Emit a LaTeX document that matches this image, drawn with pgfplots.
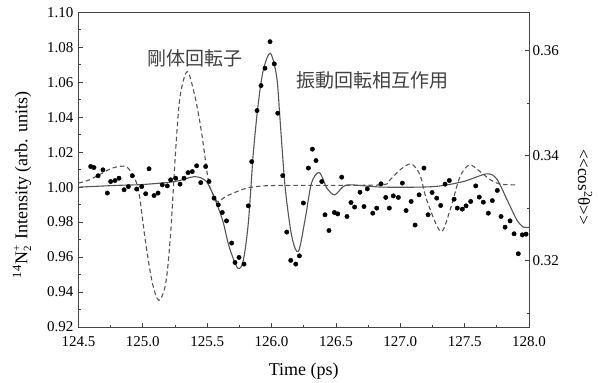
\documentclass[border=0pt]{standalone}
\usepackage{fontspec}
\setmainfont{Liberation Serif}
\newfontfamily\jp{Noto Sans CJK JP}
\usepackage{pgfplots}
\pgfplotsset{compat=1.18}
\definecolor{axc}{HTML}{444444}
\definecolor{curvec}{HTML}{555555}
\begin{document}
\begin{tikzpicture}
\useasboundingbox (0,0) rectangle (598bp,383bp);
\begin{axis}[
  at={(78.5bp,56bp)}, anchor=south west,
  scale only axis, width=450.5bp, height=314.7bp,
  xmin=124.5, xmax=128, ymin=0.92, ymax=1.10,
  xtick={124.5,125,125.5,126,126.5,127,127.5,128},
  ytick={0.92,0.94,0.96,0.98,1.00,1.02,1.04,1.06,1.08,1.10},
  minor x tick num=1, minor y tick num=1,
  xtick pos=bottom, ytick pos=left,
  tick align=inside,
  major tick length=4bp, minor tick length=2.2bp,
  axis line style={axc, line width=0.9bp},
  every tick/.style={axc, line width=0.8bp},
  /pgf/number format/assume math mode=true,
  xticklabel style={font=\fontsize{15bp}{18bp}\selectfont, yshift=-6bp, /pgf/number format/.cd, fixed, fixed zerofill, precision=1},
  yticklabel style={font=\fontsize{15bp}{18bp}\selectfont, xshift=-1.5bp, /pgf/number format/.cd, fixed, fixed zerofill, precision=2},
  scaled ticks=false,
  clip=true,
]
% measured points
\addplot[only marks, mark=*, mark size=2.2bp, black] coordinates {
(124.595,1.0118) (124.620,1.0112) (124.652,1.0065) (124.690,1.0099) (124.724,0.9966)
(124.750,1.0032) (124.784,1.0038) (124.815,1.0051) (124.854,0.9985) (124.887,1.0003)
(124.918,1.0065) (124.952,0.9989) (124.991,1.0003) (125.022,0.9962) (125.048,1.0105)
(125.087,0.9952) (125.118,0.9966) (125.151,1.0013) (125.190,1.0007) (125.216,1.0042)
(125.255,1.0051) (125.289,1.0017) (125.320,1.0051) (125.351,1.0083) (125.384,1.0089)
(125.418,1.0122) (125.450,1.0026) (125.488,1.0118) (125.514,1.0032) (125.553,0.9937)
(125.586,0.9899) (125.617,0.9855) (125.650,0.9807) (125.690,0.9680) (125.716,0.9569)
(125.747,0.9598) (125.786,0.9560) (125.819,0.9893) (125.846,1.0146) (125.887,1.0438)
(125.918,1.0581) (125.949,1.0680) (125.988,1.0832) (126.021,1.0705) (126.048,1.0423)
(126.087,1.0066) (126.118,0.9743) (126.149,0.9581) (126.188,0.9560) (126.216,0.9607)
(126.247,0.9909) (126.286,1.0109) (126.317,1.0217) (126.345,1.0152) (126.390,1.0032)
(126.415,0.9842) (126.446,0.9752) (126.488,0.9855) (126.514,0.9847) (126.545,1.0057)
(126.586,0.9832) (126.617,0.9912) (126.645,0.9886) (126.687,0.9971) (126.718,0.9889)
(126.744,0.9990) (126.786,0.9851) (126.817,0.9880) (126.850,1.0019) (126.887,0.9941)
(126.915,0.9880) (126.946,0.9950) (126.985,0.9941) (127.016,1.0023) (127.045,0.9866)
(127.084,0.9918) (127.115,0.9783) (127.146,0.9956) (127.184,1.0109) (127.216,0.9842)
(127.247,0.9969) (127.283,0.9937) (127.314,0.9895) (127.348,1.0017) (127.381,1.0038)
(127.418,0.9931) (127.443,0.9880) (127.482,0.9874) (127.511,0.9893) (127.547,0.9918)
(127.586,1.0007) (127.614,0.9943) (127.645,0.9914) (127.684,0.9851) (127.715,0.9923)
(127.754,0.9981) (127.783,0.9832) (127.814,0.9771) (127.853,0.9807) (127.884,0.9733)
(127.917,0.9619) (127.948,0.9727) (127.977,0.9731)
};
% rigid rotor (dashed)
\addplot[curvec, line width=1.1bp, dash pattern=on 4.5bp off 3bp, smooth, tension=0.5] coordinates {
(124.5,1.0023) (124.58,1.0040) (124.66,1.0070) (124.763,1.0109) (124.867,1.0118)
(124.93,1.0060) (124.97,0.9966) (125.022,0.9680) (125.074,0.9451) (125.125,0.9352)
(125.178,0.9451) (125.216,0.9737) (125.255,1.0213) (125.289,1.0518) (125.345,1.0661)
(125.405,1.0518) (125.457,1.0309) (125.496,1.0099) (125.52,1.0000) (125.566,0.9930)
(125.586,0.9918) (125.644,0.9946) (125.703,0.9966) (125.807,0.9994) (125.96,1.0008)
(126.3,1.0010) (126.85,1.0013) (126.92,1.0042) (127.0,1.0100) (127.084,1.0133)
(127.153,1.0070) (127.205,0.9927) (127.314,0.9746) (127.387,0.9870) (127.464,1.0060)
(127.537,1.0127) (127.62,1.0089) (127.70,1.0042) (127.78,1.0017) (127.905,1.0013)
};
% rovibrational (solid)
\addplot[curvec, line width=1.1bp, smooth, tension=0.5] coordinates {
(124.5,1.0000) (124.8,1.0010) (125.0,1.0015) (125.25,1.0032) (125.40,1.0060)
(125.49,1.0035) (125.55,0.9950) (125.62,0.9810) (125.67,0.9660) (125.737,0.9537)
(125.78,0.9580) (125.82,0.9800) (125.858,1.0194) (125.897,1.0480) (125.936,1.0670)
(125.990,1.0766) (126.04,1.0630) (126.066,1.0385) (126.105,1.0003) (126.157,0.9718)
(126.208,0.9632) (126.26,0.9813) (126.31,1.0023) (126.371,1.0083) (126.43,0.9994)
(126.49,0.9956) (126.557,1.0003) (126.62,1.0013) (126.87,1.0000) (127.257,1.0003)
(127.49,1.0032) (127.672,1.0076) (127.75,1.0046) (127.83,0.9927) (127.905,0.9813)
(127.957,0.9771) (128.0,0.9771)
};
\end{axis}
\begin{axis}[
  at={(78.5bp,56bp)}, anchor=south west,
  scale only axis, width=450.5bp, height=314.7bp,
  xmin=124.5, xmax=128, ymin=0.30743, ymax=0.36724,
  axis x line=none, axis y line*=right,
  ytick={0.32,0.34,0.36}, minor ytick={0.31,0.33,0.35},
  tick align=inside,
  major tick length=4bp, minor tick length=2.2bp,
  axis line style={axc, line width=0.9bp},
  every tick/.style={axc, line width=0.8bp},
  /pgf/number format/assume math mode=true,
  yticklabel style={font=\fontsize{15bp}{18bp}\selectfont, /pgf/number format/.cd, fixed, fixed zerofill, precision=2},
  scaled ticks=false,
]
\addplot[draw=none] coordinates {(124.5,0.33)};
\end{axis}
\node[font=\fontsize{18bp}{21bp}\selectfont] at (303.7bp,12bp) {Time (ps)};
\node[font=\fontsize{18bp}{21bp}\selectfont, rotate=90] at (22bp,198bp)
  {\textsuperscript{14}N\makebox[0pt][l]{\raisebox{0.85ex}{\fontsize{11bp}{12bp}\selectfont +}}\raisebox{-0.45ex}{\fontsize{11bp}{12bp}\selectfont 2}\hspace{2bp} Intensity (arb. units)};
\node[font=\fontsize{17bp}{20bp}\selectfont, rotate=-90] at (585bp,196bp) {<{}<cos\textsuperscript{2}θ>{}>};
\node[font=\jp\fontsize{19bp}{22bp}\selectfont, text=black!75] at (195bp,325bp) {剛体回転子};
\node[font=\jp\fontsize{19bp}{22bp}\selectfont, text=black!75] at (372bp,303bp) {振動回転相互作用};
\end{tikzpicture}
\end{document}
